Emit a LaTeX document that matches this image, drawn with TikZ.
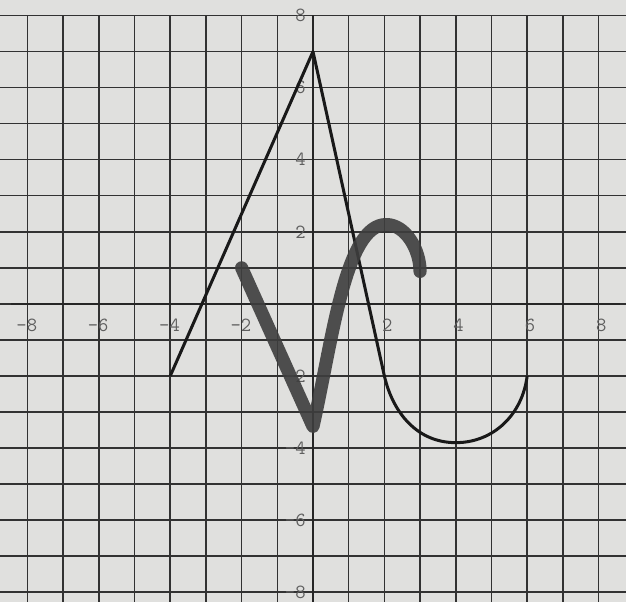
\documentclass[tikz,border=0pt]{standalone}
\definecolor{paper}{RGB}{224,224,222}
\definecolor{gridc}{RGB}{50,50,50}
\definecolor{inkc}{RGB}{25,25,25}
\definecolor{markc}{RGB}{62,62,62}
\definecolor{labc}{RGB}{95,95,95}
\begin{document}
\begin{tikzpicture}[x=1cm,y=1.01cm,
  gridline/.style={draw=gridc, line width=1.2pt},
  axisline/.style={draw=black!85, line width=2pt},
  penline/.style={draw=inkc, line width=2.4pt, line join=round},
  marker/.style={draw=markc, line width=10.5pt, line cap=round, line join=round, opacity=0.9},
  lab/.style={text=labc, font=\fontsize{16}{16}\selectfont\ttfamily, inner sep=0pt}]
\fill[paper] (-8.77,-8.26) rectangle (8.77,8.43);
\useasboundingbox (-8.77,-8.26) rectangle (8.77,8.43);
% grid
\foreach \y in {-8,...,8} \draw[gridline] (-8.77,\y) -- (8.77,\y);
\foreach \x in {-8,...,8} \draw[gridline] (\x,8) -- (\x,-8.26);
% axes
\coordinate (xl) at (-8.45,0);
\coordinate (xr) at (8.6,0);
\coordinate (yt) at (0,8);
\coordinate (yb) at (0,-8.26);
\draw[axisline] (xl) -- (xr);
\draw[axisline] (yt) -- (yb);
% labels
\foreach \x in {-8,-6,-4,-2} \node[lab] (xlab\x) at (\x-0.02,-0.6) {\x};
\foreach \x in {2,4,6,8} \node[lab] (xlab\x) at (\x+0.08,-0.6) {\x};
\foreach \y in {8,6,4,2,-2,-4,-6,-8} \node[lab, anchor=east] (ylab\y) at (-0.2,\y) {\y};
% thin pen curve
\coordinate (p1) at (-4,-2);
\coordinate (p2) at (0,7);
\coordinate (p3) at (2,-2);
\coordinate (p4) at (4,-3.85);
\coordinate (p5) at (6,-2);
\draw[penline] (p1) -- (p2) -- (p3) to[out=-77,in=180] (p4) to[out=0,in=-97] (p5);
% thick marker curve
\coordinate (m1) at (-2,1);
\coordinate (m2) at (0,-3.4);
\coordinate (m3) at (2.05,2.2);
\coordinate (m4) at (3,0.9);
\draw[marker] (m1) -- (m2) .. controls (0.55,-1) and (0.9,2.2) .. (m3) .. controls (2.6,2.2) and (3,1.5) .. (m4);
\end{tikzpicture}
\end{document}
